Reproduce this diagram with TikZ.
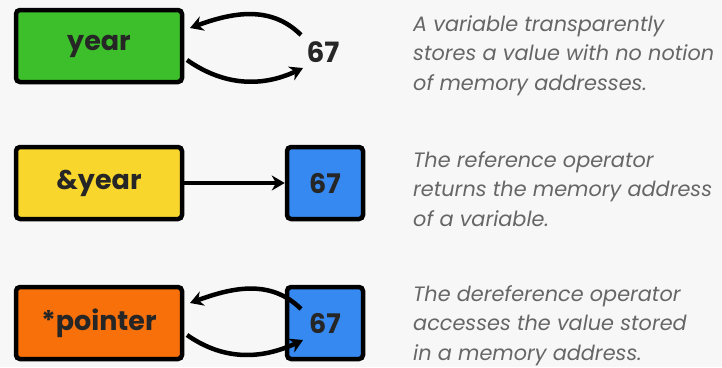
\documentclass[tikz,border=0pt]{standalone}
\usepackage{fontspec}
\setmainfont{Poppins}
\usetikzlibrary{arrows.meta}
\definecolor{gr}{HTML}{3CBF2A}
\definecolor{ye}{HTML}{F8D62C}
\definecolor{orr}{HTML}{F8700A}
\definecolor{bl}{HTML}{3589F0}
\definecolor{tx}{HTML}{666666}
\tikzset{
  box/.style={draw=black, line width=4.5pt, rounded corners=4pt, minimum width=166pt, minimum height=72pt, font=\fontsize{27}{30}\selectfont\bfseries, text=black!85},
  vbox/.style={box, minimum width=76pt, fill=bl},
  arr/.style={line width=4.5pt, -{Stealth[length=13pt,width=15pt]}},
  desc/.style={anchor=base west, align=left, text=tx, font=\fontsize{20.8}{29.5}\selectfont\itshape, inner sep=0pt}
}
\begin{document}
\begin{tikzpicture}[x=1pt,y=-1pt]
\fill[white!97!black] (0,0) rectangle (722,367);
\useasboundingbox (0,0) rectangle (722,367);
% row 1
\node[box, fill=gr] (year) at (99,46) {year};
\node[font=\fontsize{28}{30}\selectfont\bfseries, text=black!85] (v1) at (323,52) {67};
\coordinate (a1s) at (301,35);
\coordinate (a1e) at (190,28);
\coordinate (b1s) at (187,60);
\coordinate (b1e) at (303,68);
\draw[arr] (a1s) to[out=135,in=20] (a1e);
\draw[arr] (b1s) to[out=-35,in=205] (b1e);
\node[desc] (d1) at (413,90) {A variable transparently\\stores a value with no notion\\of memory addresses.};
% row 2
\node[box, fill=ye] (ref) at (99,183) {\&year};
\node[vbox] (v2) at (325,183) {67};
\draw[arr] (ref.east) -- (v2.west);
\node[desc] (d2) at (413,226) {The reference operator\\returns the memory address\\of a variable.};
% row 3
\node[box, fill=orr] (ptr) at (99,323) {*pointer};
\node[vbox] (v3) at (325,323) {67};
\coordinate (a3s) at (301,309);
\coordinate (a3e) at (190,303);
\coordinate (b3s) at (187,335);
\coordinate (b3e) at (303,340);
\draw[arr] (a3s) to[out=135,in=20] (a3e);
\draw[arr] (b3s) to[out=-35,in=205] (b3e);
\node[desc] (d3) at (413,360) {The dereference operator\\accesses the value stored\\in a memory address.};
\end{tikzpicture}
\end{document}
